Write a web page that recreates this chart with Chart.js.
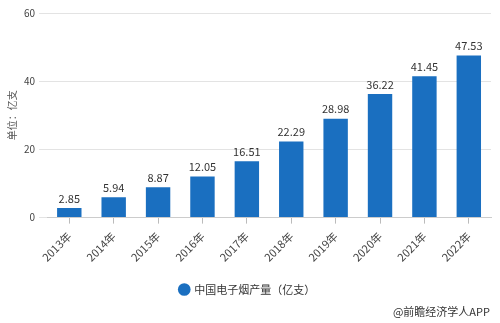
<!DOCTYPE html>
<html><head><meta charset="utf-8">
<script src="https://cdn.jsdelivr.net/npm/chart.js@4/dist/chart.umd.min.js"></script>
<style>
html,body{margin:0;padding:0;background:#fff;}
#wrap{position:relative;width:500px;height:323px;}
#src{position:absolute;right:10px;top:303px;font:11px "Noto Sans CJK SC",sans-serif;color:#333;}
</style></head>
<body><div id="wrap"><canvas id="c" width="500" height="323"></canvas><div id="src">@前瞻经济学人APP</div></div>
<script>
const categories = ["2013年","2014年","2015年","2016年","2017年","2018年","2019年","2020年","2021年","2022年"];
const production = [2.85,5.94,8.87,12.05,16.51,22.29,28.98,36.22,41.45,47.53];
const yTicks = [0,20,40,60];
const seriesName = "中国电子烟产量（亿支）";
const yTitle = "单位：亿支";
const FONT = '"Noto Sans CJK SC", sans-serif';

const labelPlugin = {
  id:'vals',
  afterDatasetsDraw(chart){
    const ctx = chart.ctx;
    const meta = chart.getDatasetMeta(0);
    ctx.save();
    ctx.font = '11px ' + FONT;
    ctx.fillStyle = '#333';
    ctx.textAlign = 'center';
    ctx.textBaseline = 'bottom';
    meta.data.forEach((b,i)=>{
      ctx.fillText(production[i].toFixed(2), b.x, b.y - 4);
    });
    ctx.restore();
  }
};

new Chart(document.getElementById('c'), {
  type:'bar',
  data:{labels:categories, datasets:[{label:seriesName, data:production, backgroundColor:'#1a6fc0', borderWidth:0, barPercentage:0.55, categoryPercentage:1.0}]},
  options:{
    responsive:false, animation:false,
    layout:{padding:{left:4,right:9,top:13,bottom:18}},
    plugins:{
      legend:{position:'bottom', labels:{usePointStyle:true, pointStyle:'circle', boxWidth:9, boxHeight:9, color:'#333', font:{family:FONT,size:11}, padding:14}},
      tooltip:{enabled:false}
    },
    scales:{
      x:{
        grid:{display:true, drawOnChartArea:false, drawTicks:true, tickLength:6, offset:false, color:'#bbb'},
        border:{display:true,color:'#ccc'},
        ticks:{maxRotation:45, minRotation:45, color:'#444', font:{family:FONT,size:11}, padding:6}
      },
      y:{
        min:0,max:60,
        afterBuildTicks(s){ s.ticks = yTicks.map(v=>({value:v})); },
        grid:{color:'#e3e3e3', tickLength:8},
        border:{display:false},
        ticks:{color:'#444', font:{family:FONT,size:10}, padding:4},
        title:{display:true, text:yTitle, color:'#555', font:{family:FONT,size:10}, padding:2}
      }
    }
  },
  plugins:[labelPlugin]
});
</script></body></html>
